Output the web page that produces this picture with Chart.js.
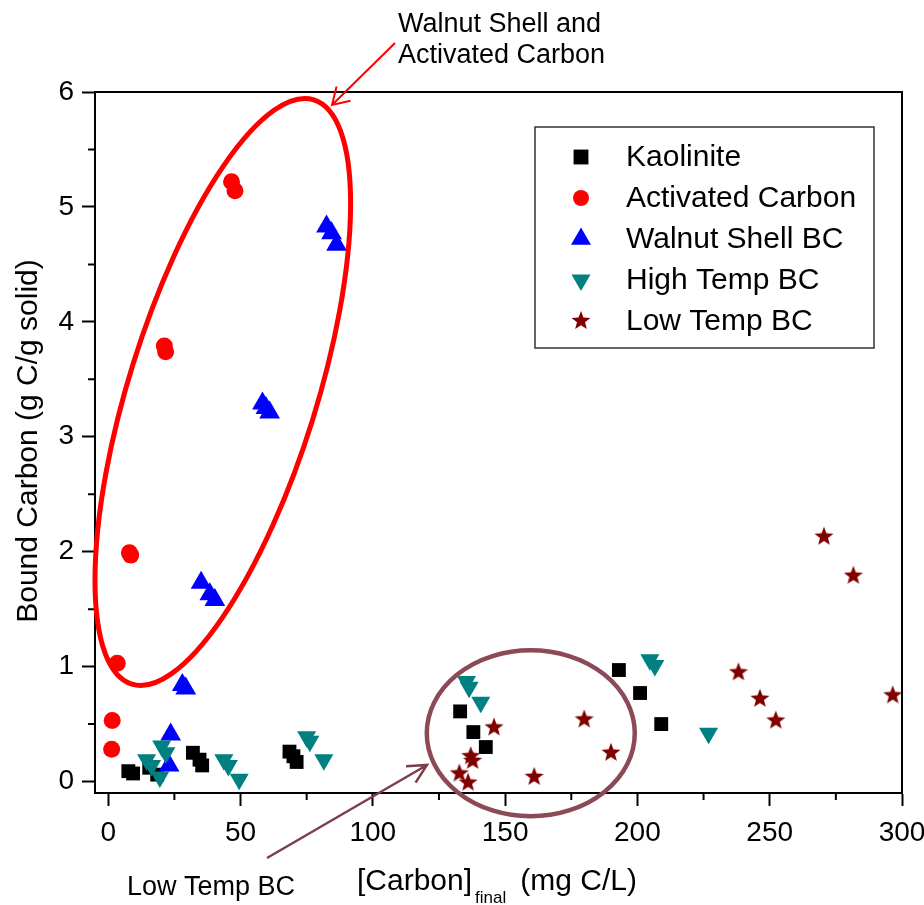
<!DOCTYPE html>
<html>
<head>
<meta charset="utf-8">
<script src="https://cdn.jsdelivr.net/npm/chart.js@4.4.0/dist/chart.umd.min.js"></script>
<style>
  html, body { margin: 0; padding: 0; background: #fff; }
</style>
</head>
<body>
<canvas id="chart" width="924" height="905"></canvas>
<script>
// values
const kaoliniteX = [7.6, 9.4, 15.5, 18.5, 32, 34.5, 35.5, 68.5, 70, 71.2, 133, 138, 142.7, 193, 201, 209];
const kaoliniteY = [0.09, 0.07, 0.12, 0.06, 0.25, 0.19, 0.14, 0.26, 0.22, 0.17, 0.61, 0.43, 0.30, 0.97, 0.77, 0.50];
const carbonX = [1.3, 1.5, 3.4, 8, 8.5, 21.2, 21.7, 46.6, 47.9];
const carbonY = [0.28, 0.53, 1.03, 1.99, 1.97, 3.79, 3.74, 5.22, 5.14];
const walnutX = [23, 23.6, 28, 29.3, 35.1, 38.4, 40.3, 58.3, 59.6, 61, 82.5, 84.4, 86.3];
const walnutY = [0.14, 0.41, 0.84, 0.81, 1.73, 1.63, 1.58, 3.29, 3.25, 3.21, 4.83, 4.77, 4.67];
const highX = [14.5, 16.4, 19.5, 20.2, 21.8, 43.7, 45.4, 49.5, 75, 76.2, 81.5, 135.4, 136.4, 140.8, 204.7, 206.6, 226.9];
const highY = [0.19, 0.14, 0.04, 0.31, 0.25, 0.19, 0.14, 0.02, 0.39, 0.35, 0.19, 0.87, 0.82, 0.69, 1.06, 1.01, 0.42];
const lowX = [132.7, 136, 137, 137.7, 145.8, 161, 179.9, 190, 238.2, 246.3, 252.3, 270.5, 281.6, 296.5];
const lowY = [0.07, -0.01, 0.22, 0.18, 0.47, 0.04, 0.54, 0.25, 0.95, 0.72, 0.53, 2.13, 1.79, 0.75];

const seriesNames = ['Kaolinite', 'Activated Carbon', 'Walnut Shell BC', 'High Temp BC', 'Low Temp BC'];

const FONT = '"Liberation Sans", Arial, sans-serif';

function toPoints(xs, ys) {
    return xs.map((x, i) => ({ x: x, y: ys[i] }));
}

// filled 5 point star, chart.js 'star' is only an asterisk
function makeStar(R, r, color) {
    let c = document.createElement('canvas');
    let s = Math.ceil(2 * R) + 2;
    c.width = s; c.height = s;
    let g = c.getContext('2d');
    g.fillStyle = color;
    g.beginPath();
    for (let i = 0; i < 10; i++) {
        let rad = i % 2 ? r : R;
        let a = -Math.PI / 2 + i * Math.PI / 5;
        g.lineTo(s / 2 + rad * Math.cos(a), s / 2 + rad * Math.sin(a));
    }
    g.closePath();
    g.fill();
    return c;
}

const starImg = makeStar(10, 4.2, '#800000');

function arrow(ctx, x1, y1, x2, y2, len, ang) {
    ctx.beginPath();
    ctx.moveTo(x1, y1);
    ctx.lineTo(x2, y2);
    let a = Math.atan2(y1 - y2, x1 - x2);
    ctx.moveTo(x2 + len * Math.cos(a + ang), y2 + len * Math.sin(a + ang));
    ctx.lineTo(x2, y2);
    ctx.lineTo(x2 + len * Math.cos(a - ang), y2 + len * Math.sin(a - ang));
    ctx.stroke();
}

const overlay = {
    id: 'overlay',
    afterDraw(chart) {
        let ctx = chart.ctx, xs = chart.scales.x, ys = chart.scales.y, a = chart.chartArea;
        ctx.save();

        // top and right frame
        ctx.strokeStyle = '#000';
        ctx.lineWidth = 2;
        ctx.beginPath();
        ctx.moveTo(a.left, a.top);
        ctx.lineTo(a.right, a.top);
        ctx.lineTo(a.right, a.bottom);
        ctx.stroke();

        // minor ticks
        ctx.beginPath();
        for (let v = 25; v < 300; v += 50) {
            let p = xs.getPixelForValue(v);
            ctx.moveTo(p, a.bottom);
            ctx.lineTo(p, a.bottom + 7);
        }
        for (let v = 0.5; v < 6; v += 1) {
            let p = ys.getPixelForValue(v);
            ctx.moveTo(a.left - 7, p);
            ctx.lineTo(a.left, p);
        }
        ctx.stroke();

        // ellipses
        ctx.lineWidth = 5;
        ctx.strokeStyle = '#ff0000';
        ctx.beginPath();
        ctx.ellipse(xs.getPixelForValue(43.3), ys.getPixelForValue(3.39), 94, 306, 17.3 * Math.PI / 180, 0, Math.PI * 2);
        ctx.stroke();

        ctx.lineWidth = 4.5;
        ctx.strokeStyle = '#8b4a55';
        ctx.beginPath();
        ctx.ellipse(xs.getPixelForValue(159.7), ys.getPixelForValue(0.42), 104, 83, 0, 0, Math.PI * 2);
        ctx.stroke();

        // arrows
        ctx.lineWidth = 2;
        ctx.strokeStyle = '#ff0000';
        arrow(ctx, 395, 43, 332, 105, 19, 0.55);
        ctx.lineWidth = 2.5;
        ctx.strokeStyle = '#7a3f4a';
        arrow(ctx, 267, 858, 427, 765, 21, 0.47);

        // annotation text
        ctx.fillStyle = '#000';
        ctx.textAlign = 'left';
        ctx.textBaseline = 'alphabetic';
        ctx.font = '27px ' + FONT;
        ctx.fillText('Walnut Shell and', 398, 32);
        ctx.fillText('Activated Carbon', 398, 63);
        ctx.fillText('Low Temp BC', 127, 895);

        // axis titles
        ctx.font = '30px ' + FONT;
        let x0 = 357;
        ctx.fillText('[Carbon]', x0, 890);
        x0 += ctx.measureText('[Carbon]').width + 3;
        ctx.font = '17px ' + FONT;
        ctx.fillText('final', x0, 903);
        x0 += ctx.measureText('final').width + 14;
        ctx.font = '30px ' + FONT;
        ctx.fillText('(mg C/L)', x0, 890);

        ctx.save();
        ctx.translate(37, 441);
        ctx.rotate(-Math.PI / 2);
        ctx.textAlign = 'center';
        ctx.font = '30px ' + FONT;
        ctx.fillText('Bound Carbon (g C/g solid)', 0, 0);
        ctx.restore();

        // legend box
        ctx.lineWidth = 1.5;
        ctx.strokeStyle = '#333';
        ctx.strokeRect(535, 127, 339, 221);
        ctx.font = '30px ' + FONT;
        ctx.textBaseline = 'middle';
        chart.data.datasets.forEach((ds, i) => {
            let y = 157 + i * 41;
            ctx.fillStyle = ds.backgroundColor;
            Chart.helpers.drawPoint(ctx, {
                pointStyle: ds.pointStyle,
                radius: ds.legendRadius,
                rotation: ds.rotation || 0,
                borderWidth: 0
            }, 581, y);
            ctx.fillStyle = '#000';
            ctx.fillText(ds.label, 626, y + 1);
        });

        ctx.restore();
    }
};

let ctx = document.getElementById('chart').getContext('2d');

window.scatter = new Chart(ctx, {
    type: 'scatter',
    data: {
        datasets: [{
            label: seriesNames[0],
            data: toPoints(kaoliniteX, kaoliniteY),
            pointStyle: 'rect',
            pointRadius: 9.8,
            legendRadius: 10.5,
            backgroundColor: '#000000',
            pointBorderWidth: 0,
            order: 5
        }, {
            label: seriesNames[1],
            data: toPoints(carbonX, carbonY),
            pointStyle: 'circle',
            pointRadius: 8.5,
            legendRadius: 8,
            backgroundColor: '#ff0000',
            pointBorderWidth: 0,
            order: 4
        }, {
            label: seriesNames[2],
            data: toPoints(walnutX, walnutY),
            pointStyle: 'triangle',
            pointRadius: 12,
            legendRadius: 11.5,
            backgroundColor: '#0000ff',
            pointBorderWidth: 0,
            order: 3
        }, {
            label: seriesNames[3],
            data: toPoints(highX, highY),
            pointStyle: 'triangle',
            rotation: 180,
            pointRotation: 180,
            pointRadius: 11,
            legendRadius: 11,
            backgroundColor: '#008080',
            pointBorderWidth: 0,
            order: 2
        }, {
            label: seriesNames[4],
            data: toPoints(lowX, lowY),
            pointStyle: starImg,
            pointRadius: 10,
            legendRadius: 10,
            backgroundColor: '#800000',
            pointBorderWidth: 0,
            order: 1
        }]
    },
    options: {
        responsive: false,
        animation: false,
        events: [],
        layout: { padding: { left: 0, top: 92, right: 22, bottom: 0 } },
        plugins: {
            legend: { display: false },
            tooltip: { enabled: false }
        },
        scales: {
            x: {
                type: 'linear',
                min: -5,
                max: 300,
                border: { color: '#000', width: 2 },
                grid: {
                    drawOnChartArea: false,
                    tickLength: 13,
                    tickWidth: 2,
                    tickColor: c => (c.tick && c.tick.value % 50 === 0) ? '#000' : 'rgba(0,0,0,0)'
                },
                ticks: {
                    stepSize: 25,
                    includeBounds: false,
                    autoSkip: false,
                    maxRotation: 0,
                    padding: 10,
                    color: '#000',
                    font: { family: FONT, size: 28 },
                    callback: v => v % 50 === 0 ? String(v) : ''
                },
                afterFit(s) {
                    s.height = 112;
                    s.paddingLeft = 0;
                    s.paddingRight = 0;
                }
            },
            y: {
                type: 'linear',
                min: -0.1,
                max: 6,
                border: { color: '#000', width: 2 },
                grid: {
                    drawOnChartArea: false,
                    tickLength: 13,
                    tickWidth: 2,
                    tickColor: c => (c.tick && Math.abs(c.tick.value - Math.round(c.tick.value)) < 1e-6) ? '#000' : 'rgba(0,0,0,0)'
                },
                ticks: {
                    stepSize: 0.5,
                    includeBounds: false,
                    autoSkip: false,
                    padding: 8,
                    color: '#000',
                    font: { family: FONT, size: 28 },
                    callback: v => Math.abs(v - Math.round(v)) < 1e-6 ? String(Math.round(v)) : ''
                },
                afterFit(s) {
                    s.width = 95;
                    s.paddingTop = 0;
                    s.paddingBottom = 0;
                }
            }
        }
    },
    plugins: [overlay]
});
</script>
</body>
</html>
